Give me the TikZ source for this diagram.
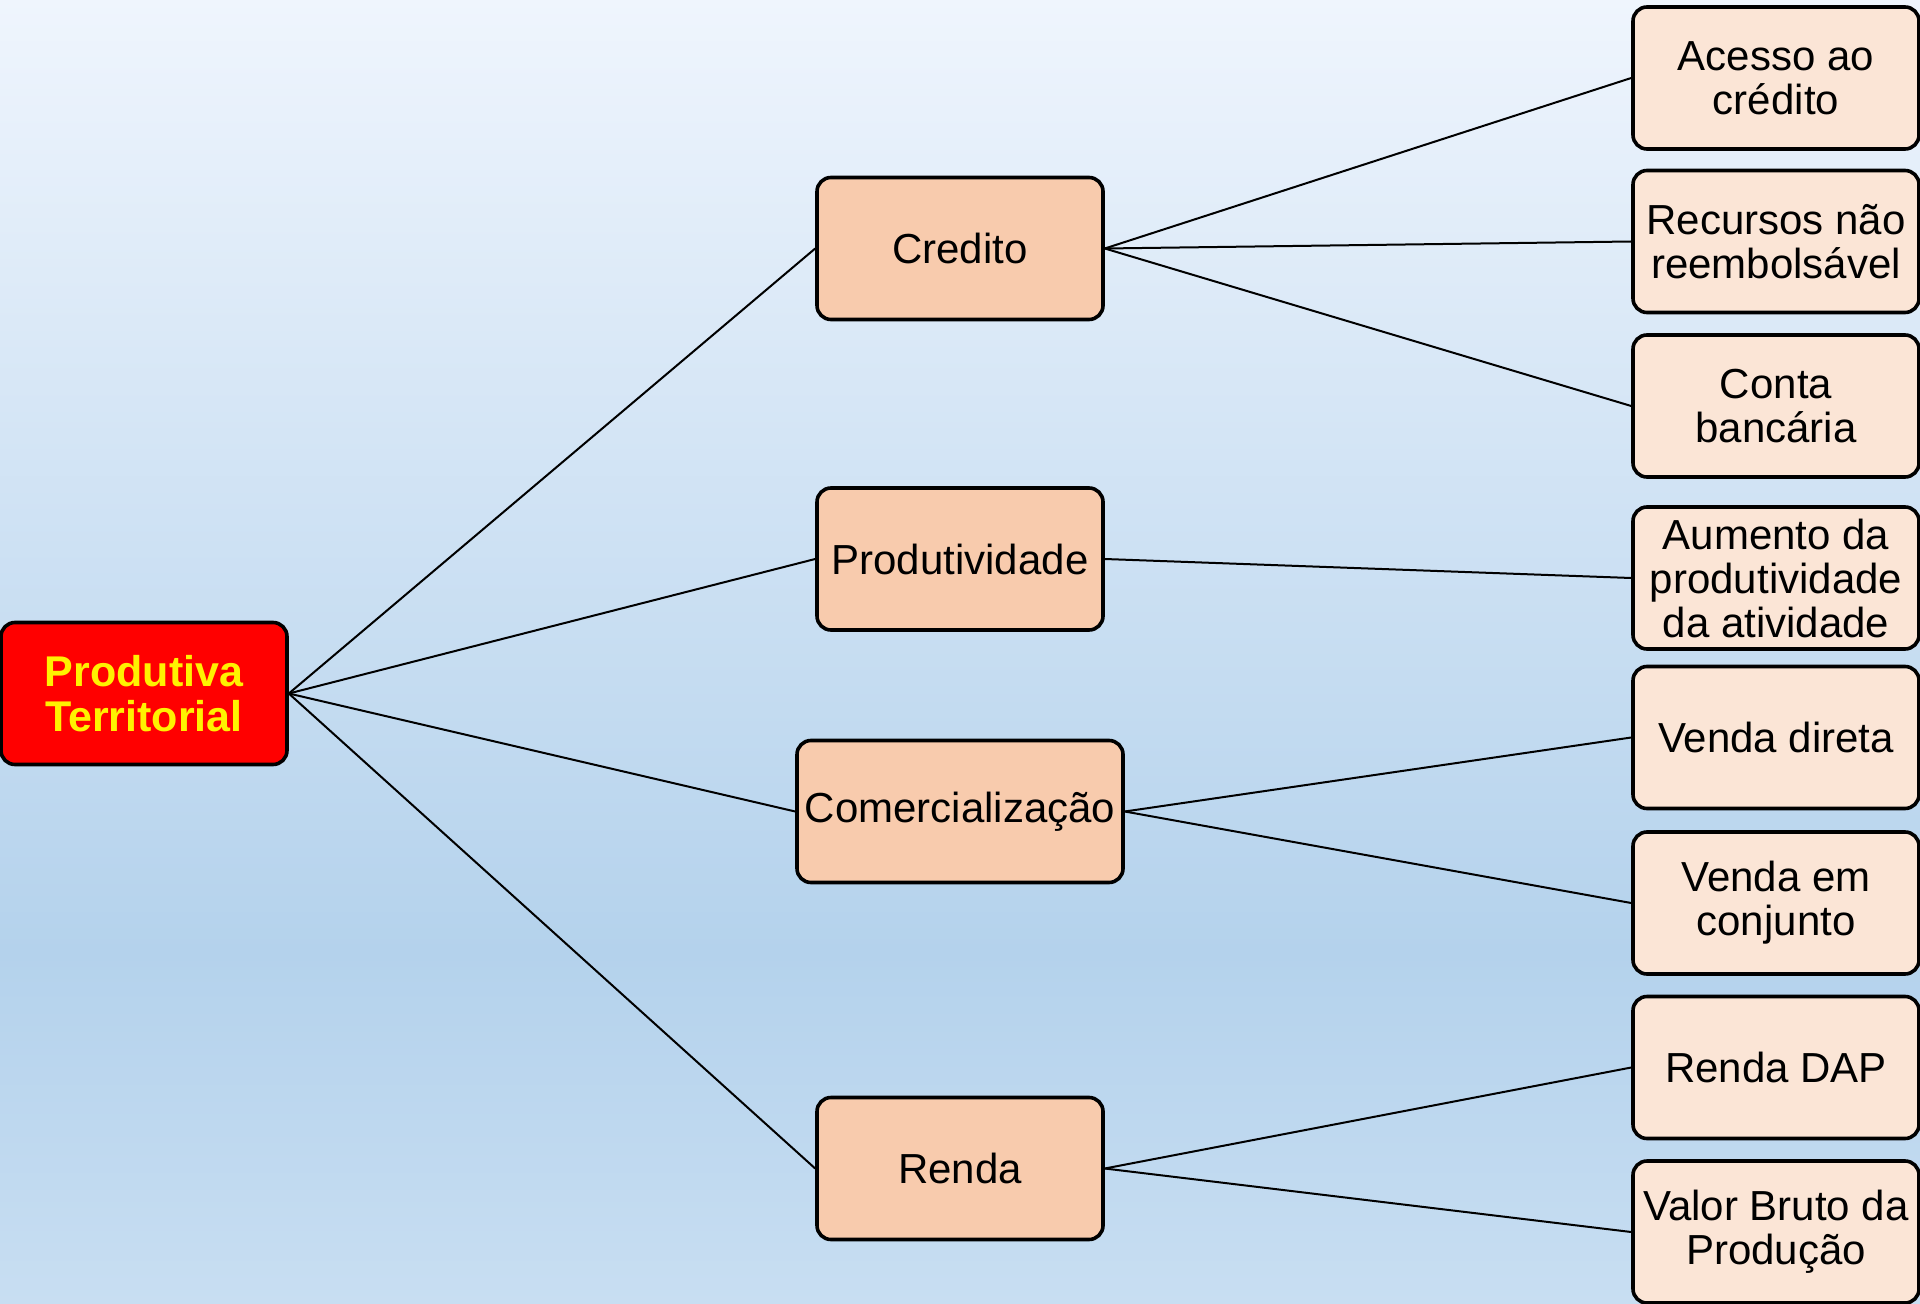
\documentclass[tikz,border=0pt]{standalone}
\usepackage{fontspec}
\setmainfont{Liberation Sans}
\definecolor{bgtop}{HTML}{EFF5FD}
\definecolor{bgmid}{HTML}{B4D2EC}
\definecolor{bgbot}{HTML}{C8DEF2}
\definecolor{midfill}{HTML}{F8CBAD}
\definecolor{leaffill}{HTML}{FBE5D6}
\pgfdeclareverticalshading{bgshade}{100bp}{color(0bp)=(bgbot); color(25bp)=(bgbot); color(38.5bp)=(bgmid); color(75bp)=(bgtop); color(100bp)=(bgtop)}
\tikzset{
  box/.style={draw=black, line width=1.8pt, rounded corners=7pt, align=center, inner sep=1pt,
    minimum height=71pt, font=\fontsize{21}{22}\selectfont},
  rootbox/.style={box, fill=red, text=yellow, minimum width=143pt, font=\bfseries\fontsize{21.5}{22.5}\selectfont},
  midbox/.style={box, fill=midfill, minimum width=143pt},
  leafbox/.style={box, fill=leaffill, minimum width=143pt},
  link/.style={draw=black, line width=1pt}
}
\begin{document}
\begin{tikzpicture}[x=0.5pt, y=-0.5pt]
\useasboundingbox (0,0) rectangle (1920,1304);
\fill[shading=bgshade] (0,0) rectangle (1920,1304);
\node[rootbox] (root) at (144,693.5) {Produtiva\\Territorial};
\node[midbox] (cred) at (960,248.5) {Credito};
\node[midbox] (prod) at (960,559) {Produtividade};
\node[midbox, minimum width=163pt] (com) at (960,811.5) {Comercialização};
\node[midbox] (renda) at (960,1168.5) {Renda};
\node[leafbox] (l1) at (1776,78) {Acesso ao\\crédito};
\node[leafbox] (l2) at (1776,241.5) {Recursos não\\reembolsável};
\node[leafbox] (l3) at (1776,406) {Conta\\bancária};
\node[leafbox] (l4) at (1776,578) {Aumento da\\produtividade\\da atividade};
\node[leafbox] (l5) at (1776,737.5) {Venda direta};
\node[leafbox] (l6) at (1776,903) {Venda em\\conjunto};
\node[leafbox] (l7) at (1776,1067.5) {Renda DAP};
\node[leafbox] (l8) at (1776,1232) {Valor Bruto da\\Produção};
\foreach \m in {cred,prod,com,renda} \draw[link] (root.east) -- (\m.west);
\foreach \l in {l1,l2,l3} \draw[link] (cred.east) -- (\l.west);
\draw[link] (prod.east) -- (l4.west);
\foreach \l in {l5,l6} \draw[link] (com.east) -- (\l.west);
\foreach \l in {l7,l8} \draw[link] (renda.east) -- (\l.west);
\end{tikzpicture}
\end{document}
